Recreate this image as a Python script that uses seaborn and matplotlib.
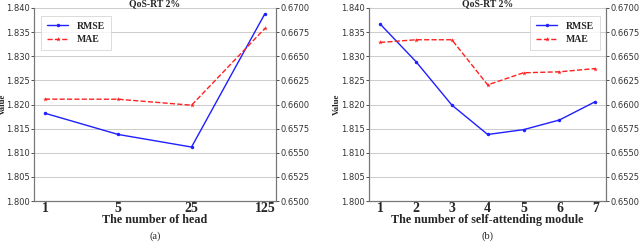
import numpy as np
import pandas as pd
import seaborn as sns
import matplotlib.pyplot as plt
from matplotlib.lines import Line2D

# panel (a): number of heads
heads = ["1", "5", "25", "125"]
rmse_a = [1.8182, 1.8138, 1.8112, 1.8388]
mae_a = [0.66056, 0.66055, 0.65993, 0.66788]

# panel (b): number of self-attending modules
modules = ["1", "2", "3", "4", "5", "6", "7"]
rmse_b = [1.8367, 1.8289, 1.8199, 1.8138, 1.8148, 1.8168, 1.8206]
mae_b = [0.66643, 0.66671, 0.66671, 0.66204, 0.66329, 0.66339, 0.66373]

rmse_ticks = [1.800, 1.805, 1.810, 1.815, 1.820, 1.825, 1.830, 1.835, 1.840]
mae_ticks = [0.6500, 0.6525, 0.6550, 0.6575, 0.6600, 0.6625, 0.6650, 0.6675, 0.6700]

sns.set_style("white")
plt.rcParams['font.family'] = 'DejaVu Sans'
serif = ['Liberation Serif', 'DejaVu Serif']

fig = plt.figure(figsize=(6.4, 2.42), dpi=100)
boxes = [[0.053, 0.169, 0.378, 0.798], [0.577, 0.169, 0.370, 0.798]]
ylabel_px = [7, 341]
panels = [
    (heads, rmse_a, mae_a, "The number of head", "(a)", "upper left"),
    (modules, rmse_b, mae_b, "The number of self-attending module", "(b)", "upper right"),
]

for box, lx, (cats, rmse, mae, xlab, tag, loc) in zip(boxes, ylabel_px, panels):
    ax = fig.add_axes(box)
    df = pd.DataFrame({"pos": np.arange(len(cats)), "rmse": rmse, "mae": mae})
    sns.lineplot(data=df, x="pos", y="rmse", ax=ax, color="#1f1fff", lw=1.0,
                 marker="o", markersize=2.5, markeredgewidth=0)
    ax2 = ax.twinx()
    sns.lineplot(data=df, x="pos", y="mae", ax=ax2, color="#ff2020", lw=1.0,
                 linestyle="--", marker="*", markersize=3.5, markeredgewidth=0)

    ax.set_ylim(1.800, 1.840)
    ax2.set_ylim(0.6500, 0.6700)
    ax.set_yticks(rmse_ticks)
    ax.set_yticklabels([f"{t:.3f}" for t in rmse_ticks])
    ax2.set_yticks(mae_ticks)
    ax2.set_yticklabels([f"{t:.4f}" for t in mae_ticks])
    ax.yaxis.grid(True, color="#cccccc", lw=0.7)
    ax.set_axisbelow(True)

    ax.set_xticks(df["pos"])
    ax.set_xticklabels(cats, fontfamily=serif, fontweight="bold", fontsize=10)
    ax.set_xlabel(xlab, fontfamily=serif, fontweight="bold", fontsize=8.7, labelpad=-1)
    ax.set_ylabel("Value", fontfamily=serif, fontweight="bold", fontsize=6.5)
    ax.yaxis.set_label_coords((lx - box[0] * 640) / (box[2] * 640), 0.5)
    ax2.set_ylabel("")
    ax.set_title("QoS-RT 2%", fontfamily=serif, fontweight="bold", fontsize=7, pad=1)

    for a in (ax, ax2):
        a.tick_params(axis="y", labelsize=6.0, length=2, width=0.6, pad=1, colors="#333333")
        a.tick_params(axis="x", length=0, pad=1)
        for s in ["left", "right", "bottom"]:
            a.spines[s].set_visible(True)
            a.spines[s].set_color("#777777")
            a.spines[s].set_linewidth(0.8)
        a.spines["top"].set_visible(False)

    handles = [
        Line2D([], [], color="#1f1fff", lw=1.0, marker="o", markersize=2.5, markeredgewidth=0),
        Line2D([], [], color="#ff2020", lw=1.0, ls="--", marker="*", markersize=3.5, markeredgewidth=0),
    ]
    leg = ax2.legend(handles, ["RMSE", "MAE"], loc=loc,
                     prop={"family": serif, "weight": "bold", "size": 7},
                     frameon=True, fancybox=False, edgecolor="#cccccc",
                     borderpad=0.6, handlelength=2.2, handletextpad=0.9, labelspacing=0.45,
                     bbox_to_anchor=(0.01, 0.985) if loc == "upper left" else (0.995, 0.985))
    leg.get_frame().set_linewidth(0.6)

    fig.text(box[0] + box[2] / 2, 0.005, tag, ha="center", va="bottom",
             fontfamily=serif, fontsize=7.5)

fig.savefig("out.png", dpi=100)
